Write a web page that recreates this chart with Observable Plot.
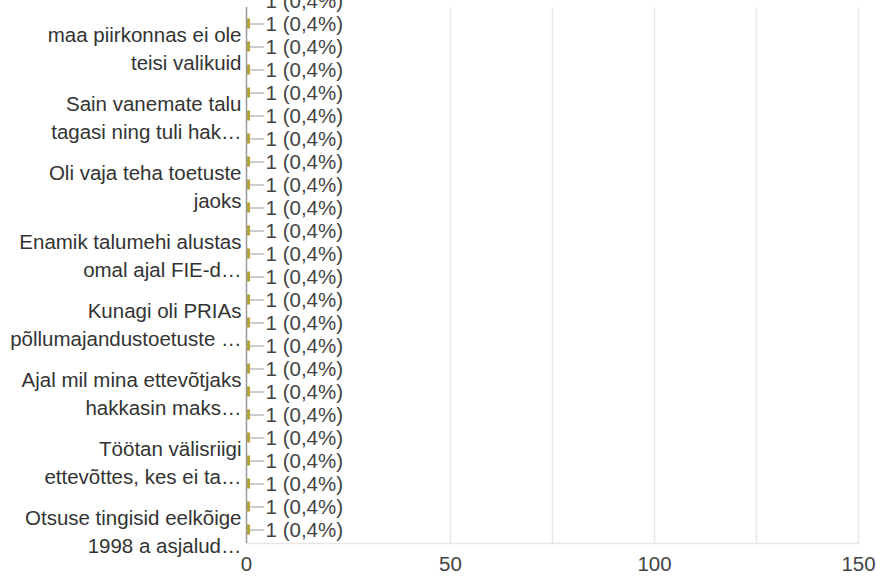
<!DOCTYPE html>
<html>
<head>
<meta charset="utf-8">
<script src="https://cdn.jsdelivr.net/npm/d3@7"></script>
<script src="https://cdn.jsdelivr.net/npm/@observablehq/plot@0.6"></script>
<style>
  html, body { margin: 0; padding: 0; background: #fff; overflow: hidden; }
  #chart svg { display: block; }
</style>
</head>
<body>
<div id="chart"></div>
<script>
// Response counts per answer row (top row is partly cut off in the view)
const counts = [1, 1, 1, 1, 1, 1, 1, 1, 1, 1, 1, 1, 1, 1, 1, 1, 1, 1, 1, 1, 1, 1, 1, 1];
// Share of respondents, percent
const percents = [0.4, 0.4, 0.4, 0.4, 0.4, 0.4, 0.4, 0.4, 0.4, 0.4, 0.4, 0.4, 0.4, 0.4, 0.4, 0.4, 0.4, 0.4, 0.4, 0.4, 0.4, 0.4, 0.4, 0.4];
// Only every third row label is shown by the chart
const labelRows = [2, 5, 8, 11, 14, 17, 20, 23];
const labelTexts = [
  "maa piirkonnas ei ole\nteisi valikuid",
  "Sain vanemate talu\ntagasi ning tuli hak…",
  "Oli vaja teha toetuste\njaoks",
  "Enamik talumehi alustas\nomal ajal FIE-d…",
  "Kunagi oli PRIAs\npõllumajandustoetuste …",
  "Ajal mil mina ettevõtjaks\nhakkasin maks…",
  "Töötan välisriigi\nettevõttes, kes ei ta…",
  "Otsuse tingisid eelkõige\n1998 a asjalud…"
];
const xTicks = [0, 50, 100, 150];
const gridTicks = [50, 75, 100, 125, 150];

const rows = counts.map((v, i) => ({row: i, value: v, pct: percents[i]}));
const labels = labelRows.map((r, i) => ({row: r, text: labelTexts[i]}));
const fmtPct = p => String(p).replace(".", ",") + "%";

const chart = Plot.plot({
  width: 880,
  height: 577,
  marginLeft: 246,
  marginRight: 22,
  marginTop: 7,
  marginBottom: 34,
  style: {fontFamily: "'Liberation Sans', Arial, sans-serif", fontSize: "20.5px", background: "#fff", overflow: "hidden"},
  x: {domain: [0, 150], axis: null, label: null},
  y: {type: "band", domain: counts.map((_, i) => i), range: [-11.75, 542.65], padding: 0, axis: null},
  marks: [
    Plot.ruleX(gridTicks, {stroke: "#e8e8e8", strokeWidth: 1.5}),
    Plot.frame({anchor: "bottom", stroke: "#e6e6e6", strokeWidth: 1.5}),
    Plot.barX(rows, {x: "value", y: "row", fill: "#b4a532", insetTop: 6.5, insetBottom: 6.5, clip: true}),
    Plot.ruleY(rows, {y: "row", x1: "value", x2: "value", insetRight: -14, stroke: "#aaa", strokeWidth: 1.2, clip: true}),
    Plot.text(rows, {y: "row", x: "value", text: d => `${d.value} (${fmtPct(d.pct)})`, textAnchor: "start", dx: 15, fill: "#444", fontSize: 20.5}),
    Plot.text(labels, {y: "row", x: 0, text: "text", textAnchor: "end", dx: -5, lineHeight: 1.36, fill: "#333", fontSize: 20.5}),
    Plot.ruleX([0], {stroke: "#999", strokeWidth: 1.5}),
    Plot.axisX(xTicks, {tickSize: 0, tickPadding: 13, fill: "#444", fontSize: 20.5, label: null})
  ]
});
document.getElementById("chart").append(chart);
</script>
</body>
</html>
